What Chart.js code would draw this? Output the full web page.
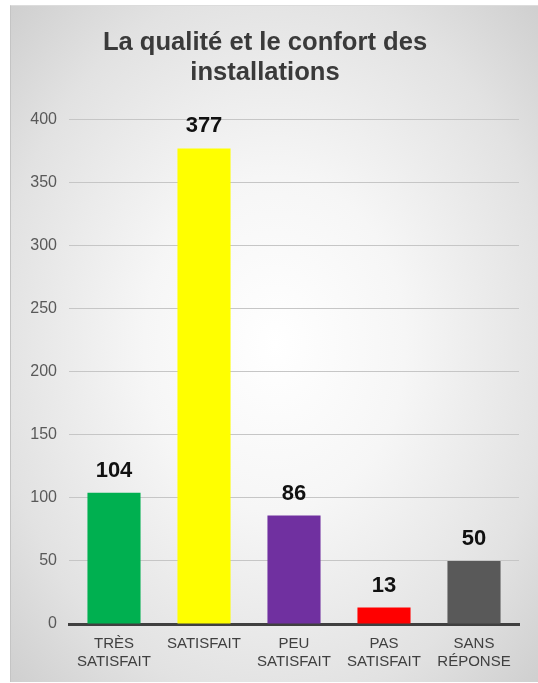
<!DOCTYPE html>
<html>
<head>
<meta charset="utf-8">
<script src="https://cdn.jsdelivr.net/npm/chart.js@4.4.1/dist/chart.umd.min.js"></script>
<style>
  body { margin: 0; background: #fff; }
  #frame {
    position: absolute; left: 10px; top: 5px; width: 528px; height: 676px;
    background: radial-gradient(ellipse at 50% 50%, #ffffff 0%, #f6f6f6 35%, #e2e2e2 75%, #cfcfcf 100%);
    border-left: 1px solid #c4c4c4; border-top: 1px solid #dcdcdc;
  }
  canvas { position: absolute; left: 0; top: 0; }
</style>
</head>
<body>
<div id="frame"><canvas id="myChart" width="528" height="676"></canvas></div>
<script>
// categories (multi-line labels) and values
const categories = [
  ['TRÈS', 'SATISFAIT'],
  ['SATISFAIT'],
  ['PEU', 'SATISFAIT'],
  ['PAS', 'SATISFAIT'],
  ['SANS', 'RÉPONSE']
];
const values = [104, 377, 86, 13, 50];
const yMin = 0;
const yMax = 400;
const yStep = 50;

const barColors = ['#00b050', '#ffff00', '#7030a0', '#ff0000', '#595959'];

Chart.defaults.font.family = "'Liberation Sans', Arial, sans-serif";

// nombres au dessus des barres
const valueLabels = {
  id: 'valueLabels',
  afterDatasetsDraw(chart) {
    const ctx = chart.ctx;
    const meta = chart.getDatasetMeta(0);
    ctx.save();
    ctx.font = "bold 22px 'Liberation Sans', Arial, sans-serif";
    ctx.fillStyle = '#111111';
    ctx.textAlign = 'center';
    ctx.textBaseline = 'alphabetic';
    meta.data.forEach((bar, i) => {
      ctx.fillText(String(values[i]), bar.x, bar.y - 16);
    });
    ctx.restore();
  }
};

new Chart('myChart', {
  type: 'bar',
  data: {
    labels: categories,
    datasets: [{
      data: values,
      backgroundColor: barColors,
      borderWidth: 0,
      categoryPercentage: 1,
      barPercentage: 0.59
    }]
  },
  options: {
    responsive: false,
    animation: false,
    layout: { padding: { right: 20, bottom: 0 } },
    plugins: {
      legend: { display: false },
      tooltip: { enabled: false },
      title: {
        display: true,
        text: ['La qualité et le confort des', 'installations'],
        color: '#3a3a3a',
        font: { size: 25.6, weight: 'bold', lineHeight: 1.18 },
        padding: { top: 22, bottom: 31 }
      }
    },
    scales: {
      x: {
        grid: { display: false, drawTicks: false },
        border: { display: true, color: '#404040', width: 3 },
        ticks: { color: '#404040', font: { size: 15, lineHeight: 1.2 }, padding: 11, maxRotation: 0, autoSkip: false }
      },
      y: {
        min: yMin,
        max: yMax,
        afterFit(scale) { scale.width = 58; },
        grid: { color: '#c6c6c6', lineWidth: 1, drawTicks: false },
        border: { display: false },
        ticks: { stepSize: yStep, color: '#595959', font: { size: 16 }, padding: 12 }
      }
    }
  },
  plugins: [valueLabels]
});
</script>
</body>
</html>
